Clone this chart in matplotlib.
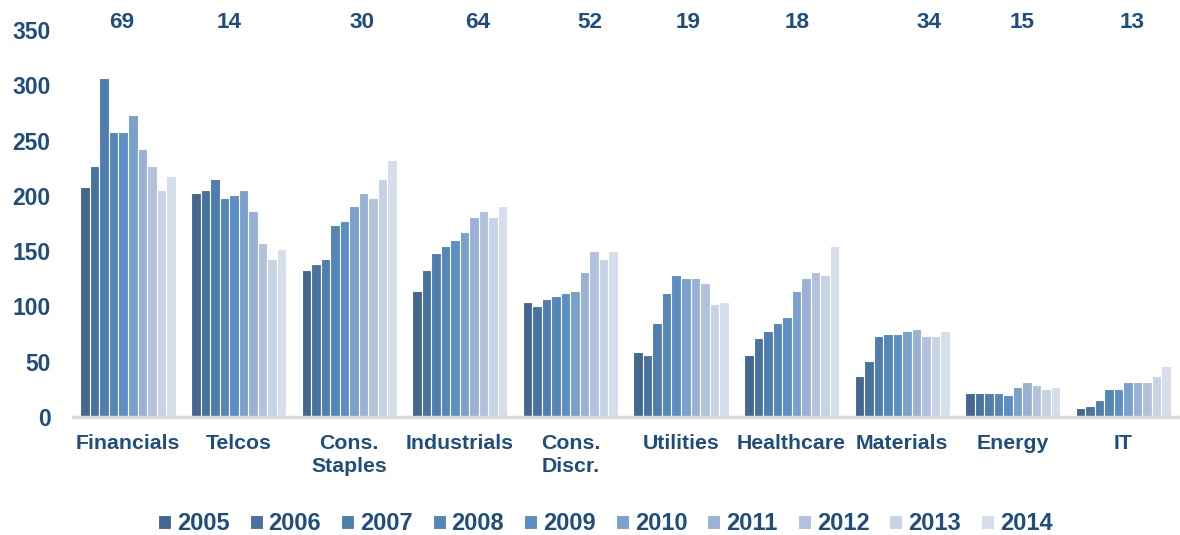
import matplotlib
matplotlib.use("Agg")
import matplotlib.pyplot as plt
import numpy as np

categories = ["Financials", "Telcos", "Cons.\nStaples", "Industrials", "Cons.\nDiscr.",
              "Utilities", "Healthcare", "Materials", "Energy", "IT"]
years = ["2005", "2006", "2007", "2008", "2009", "2010", "2011", "2012", "2013", "2014"]
counts = [69, 14, 30, 64, 52, 19, 18, 34, 15, 13]

values = {
    "Financials":  [208, 227, 307, 258, 258, 273, 242, 227, 205, 218],
    "Telcos":      [203, 205, 215, 198, 201, 205, 186, 157, 143, 152],
    "Cons. Staples": [133, 138, 143, 174, 177, 191, 203, 198, 215, 232],
    "Industrials": [114, 133, 148, 155, 160, 167, 181, 186, 181, 191],
    "Cons. Discr.": [104, 100, 107, 109, 112, 114, 131, 150, 143, 150],
    "Utilities":   [59, 56, 85, 112, 128, 126, 126, 121, 102, 104],
    "Healthcare":  [56, 71, 78, 85, 90, 114, 126, 131, 128, 155],
    "Materials":   [37, 51, 73, 75, 75, 78, 80, 73, 73, 78],
    "Energy":      [22, 22, 22, 22, 20, 27, 32, 29, 25, 27],
    "IT":          [8, 10, 15, 25, 25, 32, 32, 32, 37, 46],
}

colors = ["#43678F", "#48739F", "#4F7DAD", "#5486B8", "#5B8EC4",
          "#79A1CC", "#9AB1D6", "#B2C2DC", "#C6D2E5", "#D6DEEB"]
count_offsets = [-0.06, -0.09, 0.12, 0.16, 0.18, 0.06, 0.05, 0.24, 0.08, 0.08]

text_color = "#1F4E7E"
plt.rcParams['font.family'] = ['Liberation Sans', 'DejaVu Sans']

fig = plt.figure(figsize=(11.8, 5.35), dpi=100)
ax = fig.add_axes([0.0616, 0.2206, 0.9373, 0.7233])

data = np.array(list(values.values()))
n_cat, n_yr = data.shape
x = np.arange(n_cat)
group_w = 0.86
bw = group_w / n_yr
for j in range(n_yr):
    ax.bar(x - group_w / 2 + bw * (j + 0.5), data[:, j], width=bw, color=colors[j],
           edgecolor="white", linewidth=0.8, label=years[j], zorder=2)

ax.set_xlim(-0.5, n_cat - 0.5)
ax.set_ylim(0, 350)
ax.set_yticks(range(0, 351, 50))
ax.set_xticks(x)
ax.set_xticklabels(categories, va="top", linespacing=1.3)
ax.tick_params(axis="both", length=0, labelcolor=text_color)
ax.tick_params(axis="y", pad=16, labelsize=16.5)
ax.tick_params(axis="x", pad=12, labelsize=15.3)
for lab in ax.get_xticklabels() + ax.get_yticklabels():
    lab.set_fontweight("bold")
for lab in ax.get_yticklabels():
    lab.set_ha("right")

for s in ["top", "right", "left"]:
    ax.spines[s].set_visible(False)
ax.spines["bottom"].set_color("#D9D9D9")
ax.spines["bottom"].set_linewidth(2.5)

for i, c in enumerate(counts):
    ax.text(x[i] + count_offsets[i], 0.992, str(c), transform=ax.get_xaxis_transform(),
            ha="center", va="bottom", fontsize=16.2, fontweight="bold", color=text_color)

leg = fig.legend(loc="center", bbox_to_anchor=(0.513, 0.021), ncol=10, frameon=False,
                 handlelength=0.55, handleheight=0.55, handletextpad=0.25, columnspacing=0.85,
                 prop={"weight": "bold", "size": 17})
for t in leg.get_texts():
    t.set_color(text_color)

fig.savefig("out.png", dpi=100)
